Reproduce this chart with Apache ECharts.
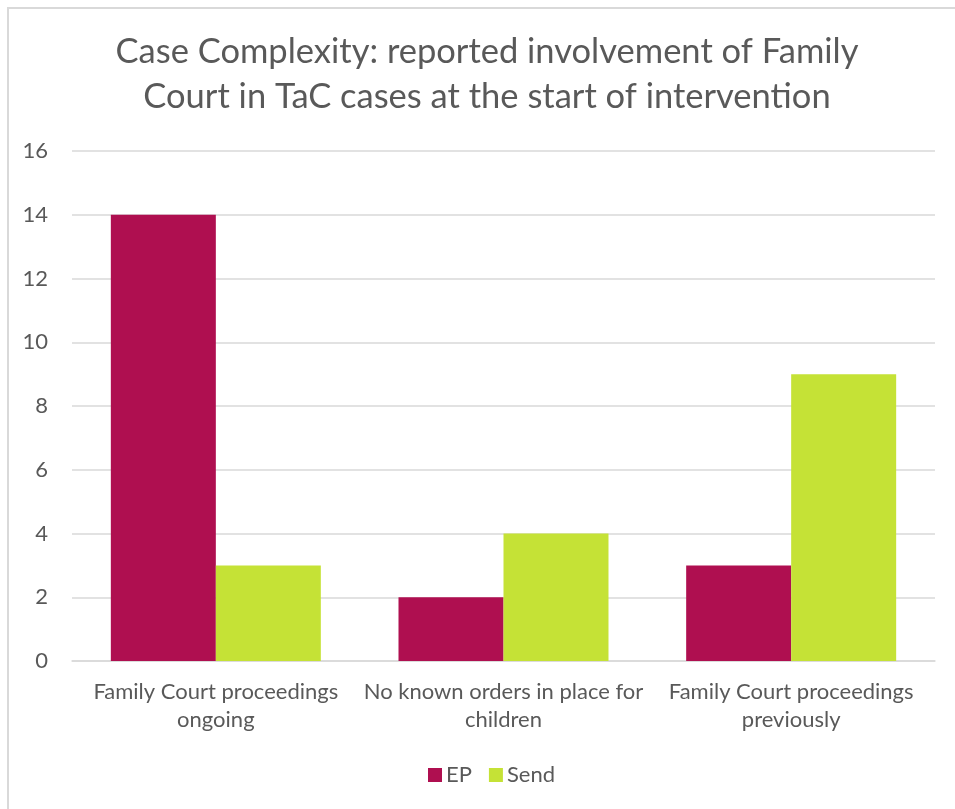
<!DOCTYPE html>
<html>
<head>
<meta charset="utf-8">
<script src="https://cdn.jsdelivr.net/npm/echarts@6/dist/echarts.min.js"></script>
<style>
html,body{margin:0;padding:0;background:#fff;}
#frame{position:absolute;left:7px;top:7px;width:960px;height:820px;border-left:2px solid #d9d9d9;border-top:2px solid #d9d9d9;box-sizing:border-box;}
#chart{position:absolute;left:0;top:0;width:955px;height:809px;}
</style>
</head>
<body>
<div id="frame"></div>
<div id="chart"></div>
<script>
const titleText = 'Case Complexity: reported involvement of Family\nCourt in TaC cases at the start of intervention';
const categories = ['Family Court proceedings\nongoing', 'No known orders in place for\nchildren', 'Family Court proceedings\npreviously'];
const seriesNames = ['EP', 'Send'];
const epValues = [14, 2, 3];
const sendValues = [3, 4, 9];
const yTicks = {min: 0, max: 16, interval: 2};

const FONT = 'Lato';
const TXT = '#595959';
const chart = echarts.init(document.getElementById('chart'), null, {renderer: 'canvas'});
chart.setOption({
  backgroundColor: 'transparent',
  animation: false,
  title: {
    text: titleText,
    left: 482,
    textAlign: 'center',
    top: 24,
    textStyle: {fontFamily: FONT, fontSize: 34.5, fontWeight: 'normal', color: TXT, lineHeight: 45}
  },
  legend: {
    data: seriesNames,
    left: 423,
    top: 759,
    itemWidth: 14,
    itemHeight: 14,
    itemGap: 17,
    icon: 'rect',
    textStyle: {fontFamily: FONT, fontSize: 22, color: TXT, padding: [0, 0, 0, -1]}
  },
  grid: {left: 72, right: 20, top: 151, bottom: 148, containLabel: false},
  xAxis: {
    type: 'category',
    data: categories,
    axisLine: {lineStyle: {color: '#d9d9d9', width: 1.5}},
    axisTick: {show: false},
    axisLabel: {fontFamily: FONT, fontSize: 22, color: TXT, lineHeight: 28, margin: 17, interval: 0}
  },
  yAxis: {
    type: 'value',
    min: yTicks.min,
    max: yTicks.max,
    interval: yTicks.interval,
    axisLine: {show: false},
    axisTick: {show: false},
    splitLine: {lineStyle: {color: '#d9d9d9', width: 1.5}},
    axisLabel: {fontFamily: FONT, fontSize: 22, color: TXT, margin: 24}
  },
  series: [
    {name: seriesNames[0], type: 'bar', data: epValues, itemStyle: {color: '#AF0F50'}, barGap: '0%', barCategoryGap: '27%'},
    {name: seriesNames[1], type: 'bar', data: sendValues, itemStyle: {color: '#C5E236'}, barGap: '0%', barCategoryGap: '27%'}
  ]
});
</script>
</body>
</html>
